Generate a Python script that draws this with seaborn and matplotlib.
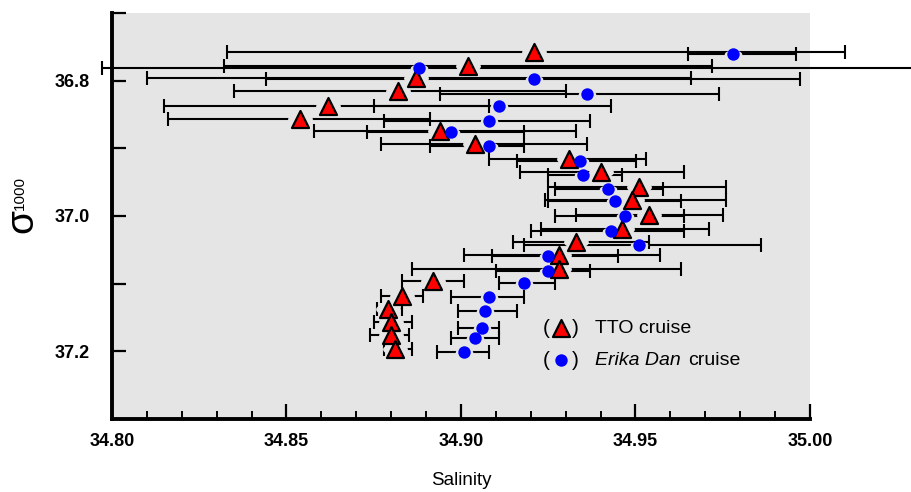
import numpy as np
import pandas as pd
import matplotlib
matplotlib.use("Agg")
import matplotlib.pyplot as plt
import seaborn as sns

# TTO cruise: salinity, sigma-1000, error bar ends
tto_sal = [34.921, 34.902, 34.887, 34.882, 34.862, 34.854, 34.894, 34.904, 34.931, 34.940,
           34.951, 34.949, 34.954, 34.946, 34.933, 34.928, 34.928, 34.892, 34.883, 34.879,
           34.880, 34.880, 34.881]
tto_sig = [36.757, 36.779, 36.796, 36.816, 36.837, 36.856, 36.874, 36.894, 36.916, 36.935,
           36.957, 36.976, 36.999, 37.019, 37.038, 37.057, 37.078, 37.096, 37.118, 37.137,
           37.157, 37.176, 37.196]
tto_lo = [34.833, 34.832, 34.810, 34.835, 34.815, 34.816, 34.858, 34.877, 34.908, 34.917,
          34.925, 34.924, 34.933, 34.923, 34.915, 34.901, 34.886, 34.883, 34.877, 34.876,
          34.875, 34.874, 34.878]
tto_hi = [35.010, 34.972, 34.966, 34.930, 34.908, 34.891, 34.933, 34.936, 34.953, 34.964,
          34.976, 34.976, 34.975, 34.971, 34.954, 34.957, 34.963, 34.901, 34.889, 34.883,
          34.886, 34.885, 34.886]

# Erika Dan cruise
ed_sal = [34.978, 34.888, 34.921, 34.936, 34.911, 34.908, 34.897, 34.908, 34.934, 34.935,
          34.942, 34.944, 34.947, 34.943, 34.951, 34.925, 34.925, 34.918, 34.908, 34.907,
          34.906, 34.904, 34.901]
ed_sig = [36.760, 36.781, 36.797, 36.819, 36.838, 36.860, 36.876, 36.897, 36.919, 36.940,
          36.960, 36.978, 37.000, 37.022, 37.043, 37.059, 37.081, 37.099, 37.119, 37.140,
          37.165, 37.181, 37.201]
ed_lo = [34.965, 34.797, 34.844, 34.894, 34.875, 34.878, 34.873, 34.891, 34.916, 34.925,
         34.927, 34.925, 34.927, 34.920, 34.918, 34.909, 34.910, 34.911, 34.897, 34.899,
         34.899, 34.897, 34.893]
ed_hi = [34.996, 35.030, 34.997, 34.974, 34.943, 34.937, 34.918, 34.918, 34.950, 34.946,
         34.958, 34.963, 34.964, 34.964, 34.986, 34.945, 34.937, 34.927, 34.918, 34.916,
         34.911, 34.911, 34.908]

tto = pd.DataFrame({"sal": tto_sal, "sig": tto_sig, "lo": tto_lo, "hi": tto_hi})
ed = pd.DataFrame({"sal": ed_sal, "sig": ed_sig, "lo": ed_lo, "hi": ed_hi})

sns.set_style("white")
plt.rcParams['font.family'] = ['Liberation Sans', 'DejaVu Sans']
plt.rcParams['text.color'] = 'black'
plt.rcParams['axes.labelcolor'] = 'black'

bg = '#e5e5e5'
fig = plt.figure(figsize=(9.12, 4.92), dpi=100)
ax = fig.add_axes([112/912, 1 - 419/492, 698/912, 406/492])
ax.set_facecolor(bg)

# error bars
for df in (tto, ed):
    eb = ax.errorbar(df["sal"], df["sig"], xerr=[df["sal"] - df["lo"], df["hi"] - df["sal"]],
                     fmt='none', ecolor='black', elinewidth=1.5, capsize=5, capthick=1.5, zorder=2)
    for a in list(eb.lines[1]) + list(eb.lines[2]):
        a.set_clip_on(False)

# gaps in the bars around the symbols
t = np.linspace(0, 2 * np.pi, 48)
halo = np.column_stack([np.cos(t), 0.45 * np.sin(t)])
sns.scatterplot(data=tto, x="sal", y="sig", marker=halo, s=320, color=bg, linewidth=0, ax=ax, zorder=3)
sns.scatterplot(data=ed, x="sal", y="sig", marker=halo, s=160, color=bg, linewidth=0, ax=ax, zorder=3)

sns.scatterplot(data=tto, x="sal", y="sig", marker='^', s=150, color='#ff0000', edgecolor='black',
                linewidth=1.6, ax=ax, zorder=4)
sns.scatterplot(data=ed, x="sal", y="sig", marker='o', s=80, color='#0000ff', linewidth=0, ax=ax, zorder=5)

ax.set_xlim(34.80, 35.00)
ax.set_ylim(37.3, 36.7)
ax.set_xticks(np.arange(34.80, 35.001, 0.05))
ax.set_xticks(np.arange(34.80, 35.001, 0.01), minor=True)
ax.set_xticklabels(['34.80', '34.85', '34.90', '34.95', '35.00'])
ax.set_yticks([36.8, 37.0, 37.2])
ax.set_yticks([36.7, 36.9, 37.1], minor=True)
ax.set_yticklabels(['36.8', '37.0', '37.2'])
ax.tick_params(which='both', bottom=True, left=True, top=False, right=False,
               colors='black', direction='in')
ax.tick_params(axis='x', which='major', length=11, width=1.6, pad=10)
ax.tick_params(axis='x', which='minor', length=6, width=1.4)
ax.tick_params(axis='y', which='both', length=10, width=1.6, pad=16)
for lab in ax.get_xticklabels() + ax.get_yticklabels():
    lab.set_fontweight('bold')
    lab.set_fontsize(13)

for s in ['top', 'right']:
    ax.spines[s].set_visible(False)
for s in ['left', 'bottom']:
    ax.spines[s].set_linewidth(2.8)
    ax.spines[s].set_color('black')

ax.set_xlabel('Salinity', fontsize=13.5, labelpad=16)
ax.set_ylabel('')

# y label: sigma with subscript
fig.text(22/912, 1 - 221/492, 'σ', rotation=90, fontsize=28, ha='center', va='center')
fig.text(20/912, 1 - 193/492, '1000', rotation=90, fontsize=11, ha='center', va='center')

# key
for yy, mk, sz, fc, lw in [(0.224, '^', 150, '#ff0000', 1.6), (0.145, 'o', 80, '#0000ff', 0)]:
    ax.text(0.622, yy, '(', transform=ax.transAxes, fontsize=15, ha='center', va='center')
    ax.text(0.664, yy, ')', transform=ax.transAxes, fontsize=15, ha='center', va='center')
    ax.scatter([0.643], [yy], transform=ax.transAxes, marker=mk, s=sz, color=fc,
               edgecolor='black', linewidth=lw, zorder=6)
ax.text(0.692, 0.224, 'TTO cruise', transform=ax.transAxes, fontsize=14, va='center')
ax.text(0.692, 0.145, 'Erika Dan', transform=ax.transAxes, fontsize=14, va='center', style='italic')
ax.text(0.826, 0.145, 'cruise', transform=ax.transAxes, fontsize=14, va='center')

fig.savefig('out.png', dpi=100)
